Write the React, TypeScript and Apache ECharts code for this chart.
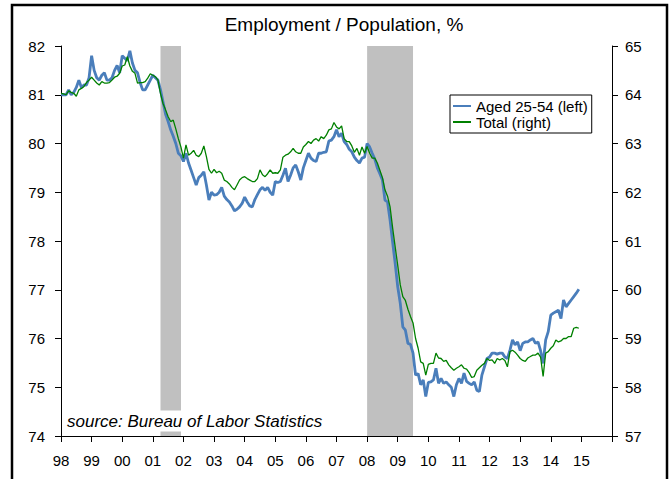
import React, { useEffect, useRef } from "react";
import * as echarts from "echarts";

const START_YEAR = 1998;
const seriesNames = ["Aged 25-54 (left)", "Total (right)"];

// Employment / population, aged 25-54, monthly Jan 1998 - Dec 2014 (left axis)
const aged2554 = [
  81.0, 81.0, 81.0, 81.1, 81.0, 81.05, 81.15, 81.3, 81.15, 81.2, 81.2, 81.35,
  81.8, 81.5, 81.35, 81.3, 81.4, 81.45, 81.3, 81.3, 81.35, 81.5, 81.6, 81.45,
  81.8, 81.75, 81.7, 81.9, 81.65, 81.5, 81.45, 81.25, 81.1, 81.1, 81.2, 81.3,
  81.4, 81.35, 81.3, 81.1, 80.85, 80.6, 80.45, 80.28, 80.15, 80.0, 79.8, 79.75,
  79.63, 79.8, 79.6, 79.45, 79.3, 79.15, 79.3, 79.35, 79.42, 79.15, 78.84, 79.0,
  78.94, 78.95, 79.0, 79.1, 78.92, 78.85, 78.8, 78.72, 78.62, 78.65, 78.7, 78.77,
  78.9, 78.8, 78.72, 78.7, 78.85, 78.95, 79.05, 79.1, 79.04, 79.1, 79.0, 78.94,
  79.22, 79.2, 79.22, 79.35, 79.49, 79.22, 79.35, 79.5, 79.56, 79.42, 79.25, 79.5,
  79.65, 79.8, 79.7, 79.65, 79.63, 79.8, 79.8, 79.82, 79.83, 80.05, 80.07, 80.14,
  80.28, 80.14, 80.21, 80.04, 79.98, 79.88, 79.83, 79.72, 79.65, 79.6, 79.7, 79.72,
  80.0, 79.93, 79.8, 79.68, 79.5, 79.38, 79.25, 78.84, 78.8, 78.43, 77.98, 77.54,
  77.06, 76.72, 76.24, 76.17, 75.9, 75.88, 75.7, 75.25, 75.28, 75.05, 75.15, 74.81,
  75.1, 75.11, 75.15, 75.39, 75.08, 75.18, 75.08, 75.11, 75.05, 75.0, 74.81, 75.05,
  75.18, 75.08, 75.29, 75.12, 75.08, 75.05, 75.11, 74.94, 74.91, 75.25, 75.42, 75.59,
  75.62, 75.7, 75.7, 75.68, 75.7, 75.7, 75.62, 75.59, 75.76, 75.97, 75.87, 75.93,
  75.75, 75.9, 75.93, 75.93, 75.97, 76.0, 75.9, 75.93, 75.75, 75.49, 75.97, 76.14,
  76.48, 76.52, 76.55, 76.58, 76.41, 76.79, 76.65, 76.72, 76.79, 76.86, 76.93, 77.01,
];

// Employment / population, total, monthly Jan 1998 - Dec 2014 (right axis)
const totalRatio = [
  64.03, 64.02, 64.0, 64.08, 64.05, 64.03, 63.97, 64.1, 64.13, 64.17, 64.25, 64.3,
  64.36, 64.3, 64.24, 64.2, 64.27, 64.24, 64.24, 64.25, 64.3, 64.36, 64.38, 64.44,
  64.59, 64.61, 64.78, 64.59, 64.48, 64.44, 64.24, 64.25, 64.25, 64.27, 64.34, 64.43,
  64.4, 64.37, 64.3, 64.03, 63.82, 63.69, 63.55, 63.45, 63.48, 63.3, 63.1, 62.93,
  62.7, 62.97, 62.76, 62.8, 62.86, 62.76, 62.73, 62.8, 62.95, 62.73, 62.47, 62.39,
  62.47, 62.4, 62.43, 62.39, 62.25, 62.22, 62.17, 62.1, 62.05, 62.15, 62.25, 62.3,
  62.32, 62.28, 62.25, 62.22, 62.22, 62.28, 62.46, 62.36, 62.32, 62.38, 62.46, 62.39,
  62.4, 62.39, 62.46, 62.72, 62.76, 62.78, 62.83, 62.9, 62.83, 62.8, 62.8, 62.93,
  62.98, 63.04, 63.0, 63.07, 63.1, 63.05, 63.14, 63.1, 63.17, 63.28, 63.3, 63.43,
  63.34, 63.3, 63.36, 63.1, 63.04, 63.04, 62.95, 62.82, 62.9, 62.76, 62.93, 62.8,
  62.94, 62.8, 62.7, 62.7, 62.6, 62.45, 62.3, 62.05, 61.92, 61.7, 61.27, 60.88,
  60.5, 60.1, 59.86, 59.78, 59.6, 59.45, 59.32, 59.0, 58.8, 58.52, 58.49, 58.25,
  58.47, 58.49, 58.49, 58.7, 58.6, 58.59, 58.53, 58.55, 58.46, 58.4, 58.35, 58.39,
  58.42, 58.46, 58.39, 58.37, 58.3, 58.2, 58.22, 58.35, 58.4, 58.45, 58.49, 58.59,
  58.55, 58.56, 58.49, 58.59, 58.56, 58.59, 58.55, 58.42, 58.73, 58.76, 58.72, 58.66,
  58.59, 58.55, 58.53, 58.6, 58.63, 58.66, 58.66, 58.7, 58.62, 58.22, 58.7, 58.73,
  58.8, 58.85, 58.97, 58.93, 58.95, 59.0, 59.0, 59.04, 59.04, 59.21, 59.23, 59.21,
];

// Recession periods (fractional years)
const recessionStarts = [2001.25, 2008.0];
const recessionEnds = [2001.92, 2009.5];

const xMin = 1998;
const xMax = 2016;
const leftMin = 74;
const leftMax = 82;
const rightMin = 57;
const rightMax = 65;

const BLUE = "#4a7ebb";
const GREEN = "#008000";
const FONT = "'Liberation Sans', Arial, sans-serif";

export default function App() {
  const ref = useRef<HTMLDivElement>(null);

  useEffect(() => {
    if (!ref.current) return;
    const chart = echarts.init(ref.current, undefined, { renderer: "svg" });
    const toPairs = (arr: number[]) =>
      arr.map((v, i) => [START_YEAR + i / 12, v]);

    const option: any = {
      animation: false,
      backgroundColor: "#ffffff",
      grid: { left: 61, right: 60, top: 46, bottom: 43, containLabel: false },
      legend: {
        left: 450,
        top: 95,
        orient: "vertical",
        data: [
          { name: seriesNames[0], icon: "rect", itemStyle: { color: BLUE } },
          { name: seriesNames[1], icon: "rect", itemStyle: { color: GREEN } },
        ],
        itemWidth: 18,
        itemHeight: 2,
        itemGap: 0,
        padding: [3, 4, 3, 3],
        borderColor: "#000",
        borderWidth: 1,
        backgroundColor: "#fff",
        textStyle: { fontFamily: FONT, fontSize: 15, color: "#000", lineHeight: 16 },
      },
      xAxis: {
        type: "value",
        min: xMin,
        max: xMax,
        interval: 1,
        splitLine: { show: false },
        axisLine: { show: true, lineStyle: { color: "#000", width: 1 } },
        axisTick: { show: true, length: 6, lineStyle: { color: "#000" } },
        axisLabel: {
          margin: 17,
          fontFamily: FONT,
          fontSize: 15,
          color: "#000",
          formatter: (v: number) => (v >= xMax ? "" : String(v % 100).padStart(2, "0")),
        },
      },
      yAxis: [
        {
          type: "value",
          position: "left",
          min: leftMin,
          max: leftMax,
          interval: 1,
          splitLine: { show: false },
          axisLine: { show: true, lineStyle: { color: "#000" } },
          axisTick: { show: true, length: 6, lineStyle: { color: "#000" } },
          axisLabel: { margin: 16, fontFamily: FONT, fontSize: 15, color: "#000" },
        },
        {
          type: "value",
          position: "right",
          min: rightMin,
          max: rightMax,
          interval: 1,
          splitLine: { show: false },
          axisLine: { show: true, lineStyle: { color: "#000" } },
          axisTick: { show: true, length: 6, lineStyle: { color: "#000" } },
          axisLabel: { margin: 13, fontFamily: FONT, fontSize: 15, color: "#000" },
        },
      ],
      series: [
        {
          name: "recessions",
          type: "line",
          data: [],
          z: 1,
          silent: true,
          markArea: {
            silent: true,
            itemStyle: { color: "#c0c0c0", opacity: 1 },
            data: recessionStarts.map((s, i) => [{ xAxis: s }, { xAxis: recessionEnds[i] }]),
          },
        },
        {
          name: seriesNames[0],
          type: "line",
          yAxisIndex: 0,
          data: toPairs(aged2554),
          showSymbol: false,
          symbol: "none",
          z: 3,
          lineStyle: { color: BLUE, width: 2.8 },
          itemStyle: { color: BLUE },
        },
        {
          name: seriesNames[1],
          type: "line",
          yAxisIndex: 1,
          data: toPairs(totalRatio),
          showSymbol: false,
          symbol: "none",
          z: 4,
          lineStyle: { color: GREEN, width: 1.3 },
          itemStyle: { color: GREEN },
        },
      ],
      graphic: [
        {
          type: "rect",
          z: 200,
          silent: true,
          shape: { x: 12, y: 5, width: 655, height: 520 },
          style: { fill: "none", stroke: "#000", lineWidth: 2.5 },
        },
        {
          type: "text",
          z: 100,
          x: 344,
          y: 24,
          style: {
            text: "Employment / Population, %",
            align: "center",
            verticalAlign: "middle",
            font: `19px ${FONT}`,
            fill: "#000",
          },
        },
        {
          type: "text",
          z: 100,
          x: 64,
          y: 421,
          style: {
            text: "source: Bureau of Labor Statistics",
            align: "left",
            verticalAlign: "middle",
            font: `italic 17px ${FONT}`,
            fill: "#000",
            backgroundColor: "#fff",
            padding: [2, 3, 2, 3],
          },
        },
      ],
    };
    chart.setOption(option);
    return () => chart.dispose();
  }, []);

  return (
    <div
      ref={ref}
      style={{ position: "absolute", left: 0, top: 0, width: 672, height: 479, background: "#fff" }}
    />
  );
}
